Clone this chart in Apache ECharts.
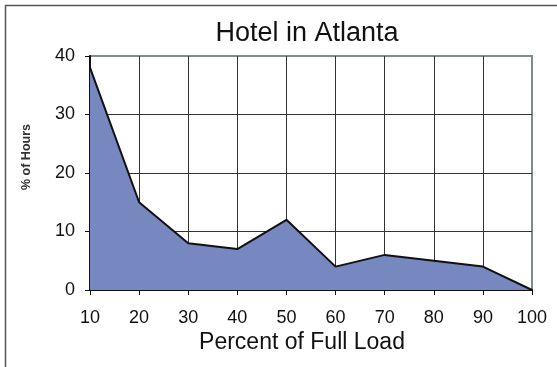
<!DOCTYPE html>
<html>
<head>
<meta charset="utf-8">
<style>
  html, body { margin: 0; padding: 0; background: #fff; }
  #chart { width: 557px; height: 367px; }
</style>
<script src="https://cdn.jsdelivr.net/npm/echarts@6/dist/echarts.min.js"></script>
</head>
<body>
<div id="chart"></div>
<script>
// Share of operating hours at each part-load level
const loadLevels = ['10', '20', '30', '40', '50', '60', '70', '80', '90', '100'];
const hoursShare = [38, 15, 8, 7, 12, 4, 6, 5, 4, 0];
const yTicks = { min: 0, max: 40, interval: 10 };

const FONT = '"Liberation Sans", Arial, sans-serif';

const chart = echarts.init(document.getElementById('chart'), null, { renderer: 'canvas' });

chart.setOption({
  animation: false,
  backgroundColor: '#ffffff',
  title: {
    text: 'Hotel in Atlanta',
    left: 302,
    top: 15,
    textAlign: 'center',
    textStyle: { fontFamily: FONT, fontSize: 27, fontWeight: 'normal', color: '#111' }
  },
  graphic: [
    {
      type: 'rect',
      silent: true,
      shape: { x: 5.5, y: 5.5, width: 620, height: 420 },
      style: { fill: 'none', stroke: '#555', lineWidth: 1.5 },
      z: 0
    },
    {
      type: 'text',
      silent: true,
      x: 27,
      y: 157,
      rotation: Math.PI / 2,
      style: {
        text: '% of Hours',
        fontFamily: FONT,
        fontSize: 12.5,
        fontWeight: 'bold',
        fill: '#333',
        align: 'center',
        verticalAlign: 'middle'
      }
    },
    {
      type: 'text',
      silent: true,
      x: 302,
      y: 343,
      style: {
        text: 'Percent of Full Load',
        fontFamily: FONT,
        fontSize: 23,
        fill: '#111',
        align: 'center',
        verticalAlign: 'middle'
      }
    }
  ],
  grid: {
    left: 90,
    right: 25,
    top: 56,
    bottom: 77,
    show: true,
    borderColor: '#828b8b',
    borderWidth: 2,
    backgroundColor: '#fff'
  },
  xAxis: {
    type: 'category',
    data: loadLevels,
    boundaryGap: false,
    axisLine: { show: true, lineStyle: { color: '#111', width: 2 } },
    axisTick: { show: true, alignWithLabel: true, length: 5, lineStyle: { color: '#111', width: 1 } },
    axisLabel: { fontFamily: FONT, fontSize: 18, color: '#111', margin: 19 },
    splitLine: { show: true, showMinLine: false, showMaxLine: false, lineStyle: { color: '#333', width: 1 } }
  },
  yAxis: {
    type: 'value',
    min: yTicks.min,
    max: yTicks.max,
    interval: yTicks.interval,
    axisLine: { show: true, lineStyle: { color: '#111', width: 2 } },
    axisTick: { show: true, length: 5, lineStyle: { color: '#111', width: 1 } },
    axisLabel: { fontFamily: FONT, fontSize: 18, color: '#111', margin: 15 },
    splitLine: { show: true, showMinLine: false, showMaxLine: false, lineStyle: { color: '#333', width: 1 } }
  },
  series: [
    {
      type: 'line',
      data: hoursShare,
      symbol: 'none',
      smooth: false,
      lineStyle: { color: '#111', width: 2 },
      areaStyle: { color: '#7787bf', opacity: 1 },
      z: 2
    }
  ]
});
</script>
</body>
</html>
